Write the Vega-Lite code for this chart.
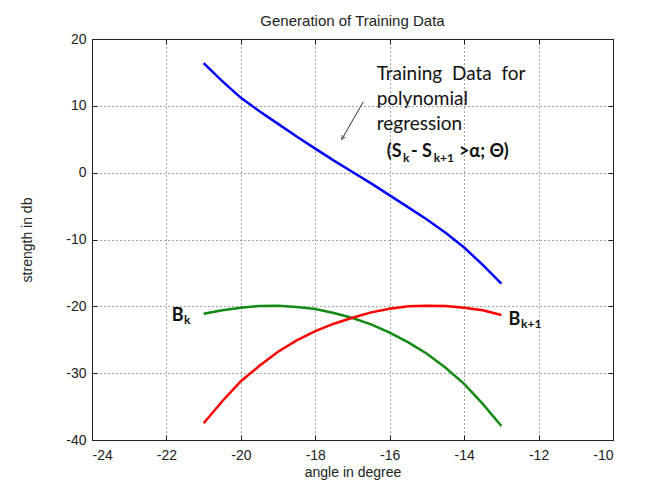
{
  "$schema": "https://vega.github.io/schema/vega-lite/v6.json",
  "width": 521,
  "height": 401,
  "autosize": "none",
  "padding": {"left": 92, "top": 39, "right": 54, "bottom": 50},
  "background": "white",
  "title": {"text": "Generation of Training Data", "font": "Liberation Sans", "fontSize": 15, "fontWeight": "normal", "color": "#222222", "offset": 3},
  "config": {
    "view": {"stroke": "#222222", "strokeWidth": 1},
    "axis": {
      "labelFont": "Liberation Sans", "labelFontSize": 14, "labelColor": "#222222",
      "titleFont": "Liberation Sans", "titleFontSize": 14, "titleFontWeight": "normal", "titleColor": "#222222",
      "domainColor": "#222222", "tickColor": "#222222", "tickSize": -5,
      "gridColor": "#444444", "gridDash": [1, 3], "gridOpacity": 1, "gridWidth": 1,
      "labelExpr": "replace(datum.label, '−', '-')"
    }
  },
  "datasets": {
    "curves": [
      {"angle": -21, "db": 16.4, "series": "training"},
      {"angle": -20.5, "db": 13.7, "series": "training"},
      {"angle": -20, "db": 11.2, "series": "training"},
      {"angle": -19.5, "db": 9.2, "series": "training"},
      {"angle": -19, "db": 7.3, "series": "training"},
      {"angle": -18.5, "db": 5.4, "series": "training"},
      {"angle": -18, "db": 3.6, "series": "training"},
      {"angle": -17.5, "db": 1.8, "series": "training"},
      {"angle": -17, "db": 0.1, "series": "training"},
      {"angle": -16.5, "db": -1.6, "series": "training"},
      {"angle": -16, "db": -3.4, "series": "training"},
      {"angle": -15.5, "db": -5.2, "series": "training"},
      {"angle": -15, "db": -7.0, "series": "training"},
      {"angle": -14.5, "db": -9.0, "series": "training"},
      {"angle": -14, "db": -11.2, "series": "training"},
      {"angle": -13.5, "db": -13.8, "series": "training"},
      {"angle": -13, "db": -16.6, "series": "training"},
      {"angle": -21, "db": -21.1, "series": "Bk"},
      {"angle": -20.5, "db": -20.6, "series": "Bk"},
      {"angle": -20, "db": -20.2, "series": "Bk"},
      {"angle": -19.5, "db": -19.95, "series": "Bk"},
      {"angle": -19, "db": -19.9, "series": "Bk"},
      {"angle": -18.5, "db": -20.1, "series": "Bk"},
      {"angle": -18, "db": -20.4, "series": "Bk"},
      {"angle": -17.5, "db": -21.0, "series": "Bk"},
      {"angle": -17, "db": -21.75, "series": "Bk"},
      {"angle": -16.5, "db": -22.7, "series": "Bk"},
      {"angle": -16, "db": -23.95, "series": "Bk"},
      {"angle": -15.5, "db": -25.4, "series": "Bk"},
      {"angle": -15, "db": -27.1, "series": "Bk"},
      {"angle": -14.5, "db": -29.2, "series": "Bk"},
      {"angle": -14, "db": -31.6, "series": "Bk"},
      {"angle": -13.5, "db": -34.6, "series": "Bk"},
      {"angle": -13, "db": -37.9, "series": "Bk"},
      {"angle": -21, "db": -37.5, "series": "Bk+1"},
      {"angle": -20.5, "db": -34.2, "series": "Bk+1"},
      {"angle": -20, "db": -31.2, "series": "Bk+1"},
      {"angle": -19.5, "db": -28.9, "series": "Bk+1"},
      {"angle": -19, "db": -26.8, "series": "Bk+1"},
      {"angle": -18.5, "db": -25.1, "series": "Bk+1"},
      {"angle": -18, "db": -23.7, "series": "Bk+1"},
      {"angle": -17.5, "db": -22.6, "series": "Bk+1"},
      {"angle": -17, "db": -21.7, "series": "Bk+1"},
      {"angle": -16.5, "db": -20.9, "series": "Bk+1"},
      {"angle": -16, "db": -20.35, "series": "Bk+1"},
      {"angle": -15.5, "db": -20.0, "series": "Bk+1"},
      {"angle": -15, "db": -19.9, "series": "Bk+1"},
      {"angle": -14.5, "db": -19.95, "series": "Bk+1"},
      {"angle": -14, "db": -20.2, "series": "Bk+1"},
      {"angle": -13.5, "db": -20.6, "series": "Bk+1"},
      {"angle": -13, "db": -21.3, "series": "Bk+1"}
    ],
    "notes": [
      {"label": "Training\u00a0\u00a0Data\u00a0\u00a0for", "angle": -16.35, "db": 13.86},
      {"label": "polynomial", "angle": -16.35, "db": 10.12},
      {"label": "regression", "angle": -16.35, "db": 6.38}
    ],
    "boldMain": [
      {"label": "(S", "angle": -16.08, "db": 2.38},
      {"label": "- S", "angle": -15.43, "db": 2.38},
      {"label": ">α; Θ)", "angle": -14.14, "db": 2.38},
      {"label": "B", "angle": -21.86, "db": -22.17},
      {"label": "B", "angle": -12.81, "db": -22.81}
    ],
    "boldSub": [
      {"label": "k", "angle": -15.64, "db": 1.63},
      {"label": "k+1", "angle": -14.82, "db": 1.63},
      {"label": "k", "angle": -21.53, "db": -22.66},
      {"label": "k+1", "angle": -12.47, "db": -23.31}
    ],
    "arrow": [
      {"angle": -16.71, "db": 10.61, "angle2": -17.29, "db2": 4.98}
    ]
  },
  "layer": [
    {
      "data": {"name": "curves"},
      "mark": {"type": "line", "strokeWidth": 2.5},
      "encoding": {
        "x": {"field": "angle", "type": "quantitative", "scale": {"domain": [-24, -10], "nice": false, "zero": false},
              "axis": {"orient": "bottom", "values": [-24, -22, -20, -18, -16, -14, -12, -10], "title": "angle in degree", "grid": true, "labelPadding": 13, "titlePadding": 3}},
        "y": {"field": "db", "type": "quantitative", "scale": {"domain": [-40, 20], "nice": false, "zero": false},
              "axis": {"orient": "left", "values": [-40, -30, -20, -10, 0, 10, 20], "title": "strength in db", "grid": true, "labelPadding": 11, "titlePadding": 31}},
        "color": {"field": "series", "type": "nominal", "scale": {"domain": ["training", "Bk", "Bk+1"], "range": ["#0000ff", "#138a13", "#ff0000"]}, "legend": null},
        "detail": {"field": "series"}
      }
    },
    {
      "data": {"name": "curves"},
      "mark": {"type": "line", "opacity": 0},
      "encoding": {
        "x": {"field": "angle", "type": "quantitative",
              "axis": {"orient": "top", "values": [-24, -22, -20, -18, -16, -14, -12, -10], "labels": false, "title": null, "grid": false}},
        "y": {"field": "db", "type": "quantitative",
              "axis": {"orient": "right", "values": [-40, -30, -20, -10, 0, 10, 20], "labels": false, "title": null, "grid": false}}
      }
    },
    {
      "data": {"name": "arrow"},
      "mark": {"type": "rule", "color": "#333333", "strokeWidth": 1},
      "encoding": {
        "x": {"field": "angle", "type": "quantitative", "axis": null},
        "y": {"field": "db", "type": "quantitative", "axis": null},
        "x2": {"field": "angle2"},
        "y2": {"field": "db2"}
      }
    },
    {
      "data": {"name": "arrow"},
      "mark": {"type": "point", "shape": "M -0.5 1 L 0 0 L 0.5 1", "filled": false, "stroke": "#333333", "strokeWidth": 1, "size": 60, "angle": 210},
      "encoding": {
        "x": {"field": "angle2", "type": "quantitative", "axis": null},
        "y": {"field": "db2", "type": "quantitative", "axis": null}
      }
    },
    {
      "data": {"name": "notes"},
      "mark": {"type": "text", "align": "left", "baseline": "alphabetic", "font": "Lato", "fontSize": 19, "color": "#111111"},
      "encoding": {
        "x": {"field": "angle", "type": "quantitative", "axis": null},
        "y": {"field": "db", "type": "quantitative", "axis": null},
        "text": {"field": "label"}
      }
    },
    {
      "data": {"name": "boldMain"},
      "mark": {"type": "text", "align": "left", "baseline": "alphabetic", "font": "Lato", "fontSize": 18, "fontWeight": "bold", "color": "#111111"},
      "encoding": {
        "x": {"field": "angle", "type": "quantitative", "axis": null},
        "y": {"field": "db", "type": "quantitative", "axis": null},
        "text": {"field": "label"}
      }
    },
    {
      "data": {"name": "boldSub"},
      "mark": {"type": "text", "align": "left", "baseline": "alphabetic", "font": "Lato", "fontSize": 12, "fontWeight": "bold", "color": "#111111"},
      "encoding": {
        "x": {"field": "angle", "type": "quantitative", "axis": null},
        "y": {"field": "db", "type": "quantitative", "axis": null},
        "text": {"field": "label"}
      }
    }
  ],
  "resolve": {"axis": {"x": "independent", "y": "independent"}}
}
